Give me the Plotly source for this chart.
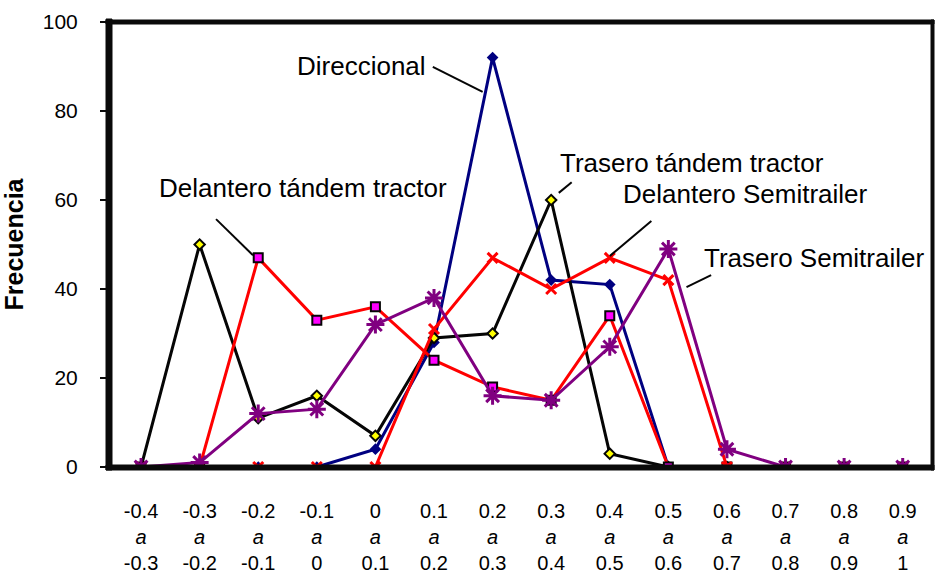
import plotly.graph_objects as go

# Class limits of the histogram bins
bin_lo = ["-0.4", "-0.3", "-0.2", "-0.1", "0", "0.1", "0.2", "0.3", "0.4", "0.5", "0.6", "0.7", "0.8", "0.9"]
bin_hi = ["-0.3", "-0.2", "-0.1", "0", "0.1", "0.2", "0.3", "0.4", "0.5", "0.6", "0.7", "0.8", "0.9", "1"]
categories = [f"{a} a {b}" for a, b in zip(bin_lo, bin_hi)]

# Frequencies per axle
direccional = [0, 0, 0, 0, 4, 28, 92, 42, 41, 0, 0, 0, 0, 0]
trasero_tandem = [0, 50, 11, 16, 7, 29, 30, 60, 3, 0, 0, 0, 0, 0]
delantero_tandem = [0, 0, 47, 33, 36, 24, 18, 15, 34, 0, 0, 0, 0, 0]
delantero_semi = [0, 0, 0, 0, 0, 31, 47, 40, 47, 42, 0, 0, 0, 0]
trasero_semi = [0, 1, 12, 13, 32, 38, 16, 15, 27, 49, 4, 0, 0, 0]

ticktext = [f"{a}<br><i>a</i><br>{b}" for a, b in zip(bin_lo, bin_hi)]

W, H = 935, 575
ML, MR, MT, MB = 110, 3, 22, 108
PW, PH = W - ML - MR, H - MT - MB
FRAME = "#0a0a0a"

fig = go.Figure()
fig.add_trace(go.Scatter(
    x=categories, y=direccional, mode="lines+markers", name="Direccional",
    line=dict(color="#000080", width=3),
    marker=dict(symbol="diamond", size=9, color="#000080", line=dict(width=0)),
))
fig.add_trace(go.Scatter(
    x=categories, y=trasero_tandem, mode="lines+markers", name="Trasero tándem tractor",
    line=dict(color="#050505", width=3),
    marker=dict(symbol="diamond", size=8, color="#FFFF00", line=dict(color="#050505", width=2)),
))
fig.add_trace(go.Scatter(
    x=categories, y=delantero_tandem, mode="lines+markers", name="Delantero tándem tractor",
    line=dict(color="#FF0000", width=3),
    marker=dict(symbol="square", size=9, color="#FF00FF", line=dict(color="#050505", width=2)),
))
fig.add_trace(go.Scatter(
    x=categories, y=delantero_semi, mode="lines+markers", name="Delantero Semitrailer",
    line=dict(color="#FF0000", width=3),
    marker=dict(symbol="x-thin", size=10, line=dict(color="#FF0000", width=3)),
))
fig.add_trace(go.Scatter(
    x=categories, y=trasero_semi, mode="lines+markers", name="Trasero Semitrailer",
    line=dict(color="#800080", width=3),
    marker=dict(symbol="asterisk-open", size=15, line=dict(color="#800080", width=3)),
))

# Series labels with leader lines
labels = [
    ("Direccional", 3.76, 90.1, (4.98, 89.9, 5.83, 84.3)),
    ("Delantero tándem tractor", 2.77, 62.7, (1.28, 55.7, 1.91, 47.6)),
    ("Trasero tándem tractor", 9.41, 68.3, (7.35, 64.0, 7.13, 61.6)),
    ("Delantero Semitrailer", 10.31, 61.3, (8.71, 55.3, 8.0, 47.4)),
    ("Trasero Semitrailer", 11.49, 47.0, (9.73, 43.1, 9.31, 40.4)),
]
annotations = []
shapes = []
for text, tx, ty, (x0, y0, x1, y1) in labels:
    annotations.append(dict(x=tx, y=ty, xref="x", yref="y", text=text, showarrow=False,
                            font=dict(family="Liberation Sans", size=26, color="#000000"),
                            xanchor="center", yanchor="middle"))
    shapes.append(dict(type="line", xref="x", yref="y", x0=x0, y0=y0, x1=x1, y1=y1,
                       line=dict(color="#050505", width=2)))

# Plot frame as filled bands, offsets given in pixels from the plot edges
frame = [
    (-4, 2, -3, PH + 3),           # left
    (-4, PW + 2, -3, 2),           # bottom
    (-4, PW + 2, PH - 2, PH + 2),  # top
    (PW - 1, PW + 2, -3, PH + 2),  # right
]
for px0, px1, py0, py1 in frame:
    shapes.append(dict(type="rect", xref="paper", yref="paper",
                       x0=px0 / PW, x1=px1 / PW, y0=py0 / PH, y1=py1 / PH,
                       fillcolor=FRAME, line=dict(color=FRAME, width=1)))

fig.update_layout(
    width=W, height=H,
    margin=dict(l=ML, r=MR, t=MT, b=MB),
    plot_bgcolor="white", paper_bgcolor="white",
    showlegend=False,
    font=dict(family="Liberation Sans", color="#000000"),
    annotations=annotations,
    shapes=shapes,
    xaxis=dict(
        type="category", range=[-0.53, 13.5], automargin=False,
        tickmode="array", tickvals=categories, ticktext=ticktext,
        tickfont=dict(family="Liberation Sans", size=20, color="#000000"),
        showgrid=False, zeroline=False, showline=False,
        ticks="", ticklabelstandoff=30,
    ),
    yaxis=dict(
        range=[0, 100], tickvals=[0, 20, 40, 60, 80, 100], automargin=False,
        tickfont=dict(family="Liberation Sans", size=21, color="#000000"),
        showgrid=False, zeroline=False, showline=False,
        ticks="outside", ticklen=9, tickwidth=1.5, tickcolor="#0a0a0a",
        ticklabelstandoff=18,
        title=dict(text="<b>Frecuencia</b>", font=dict(family="Liberation Sans", size=25), standoff=14),
    ),
)

fig.write_html("out.html")
